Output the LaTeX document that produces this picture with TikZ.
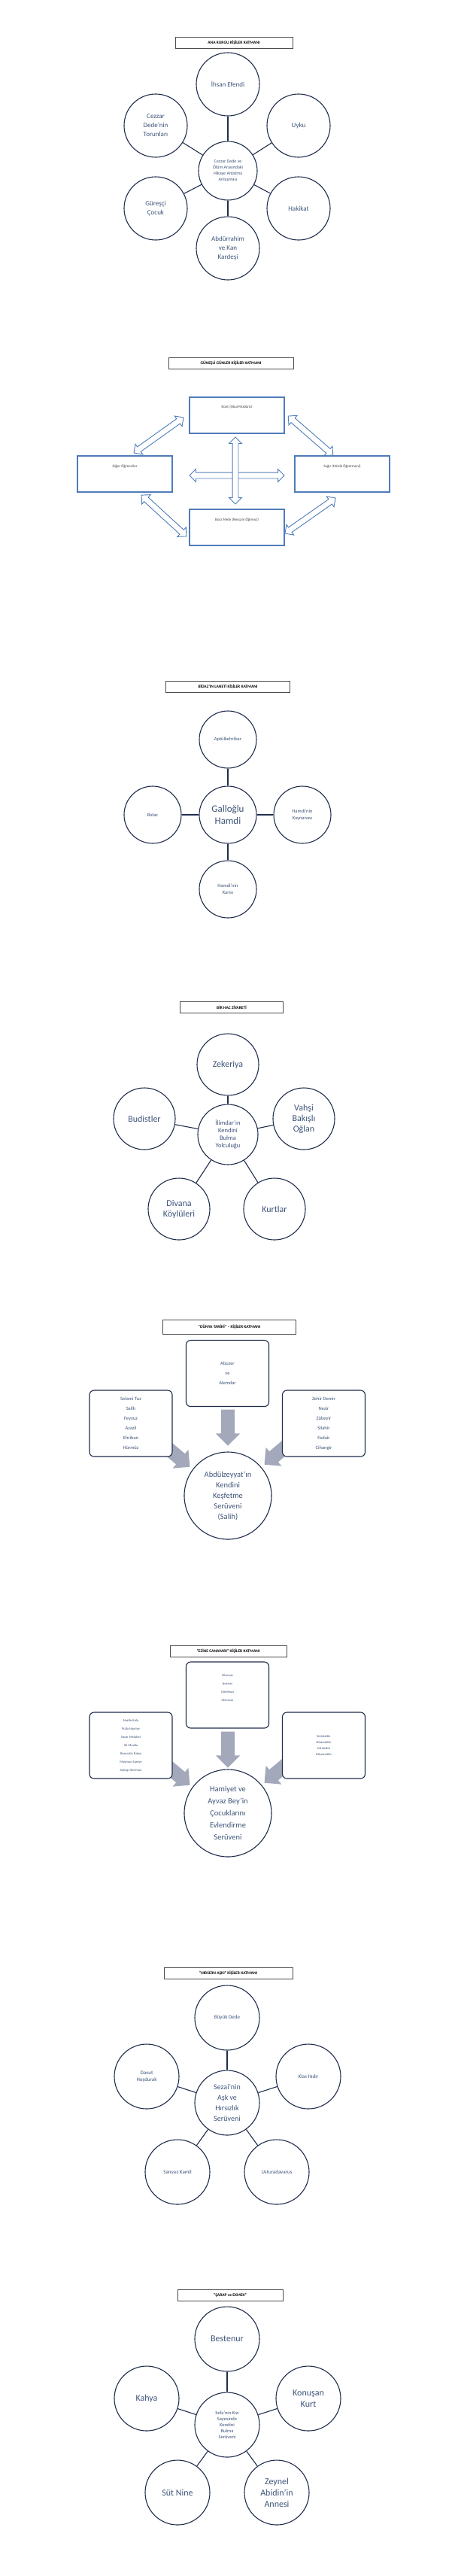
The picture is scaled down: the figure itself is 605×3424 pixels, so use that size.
\documentclass[tikz,border=0pt]{standalone}
\usepackage{fontspec}
\setmainfont{Carlito}
\usetikzlibrary{shapes.arrows}
\definecolor{navy}{HTML}{1F2D4D}
\definecolor{inkblue}{HTML}{3E5479}
\definecolor{boxblue}{HTML}{4F7CBA}
\definecolor{arrowgray}{HTML}{A3A9BA}
\tikzset{
  title/.style = {draw = black!70, line width = 0.5pt, minimum width = #1, minimum height = 15, inner sep = 0, font = \fontsize{5.5}{6}\selectfont\bfseries},
  person/.style = {circle, draw = navy, line width = 1.1pt, minimum size = #1, align = center, text = inkblue, inner sep = 1pt},
  link/.style = {navy, line width = 1.1pt},
  role/.style = {draw = boxblue, line width = 1.2pt, minimum width = 126, minimum height = 48, text = black!75, font = \fontsize{5}{6}\selectfont},
  relation/.style = {double arrow, draw = boxblue, fill = white, line width = 0.9pt, inner sep = 3.5pt, double arrow head extend = 4.5pt},
  group/.style = {draw = navy, line width = 1.1pt, rounded corners = 6, minimum width = 110, minimum height = 88, align = center, text = inkblue},
  flow/.style = {single arrow, fill = arrowgray, inner sep = 9pt, single arrow head extend = 7pt}
}
\begin{document}
\begin{tikzpicture}[x = 1pt, y = -1pt]
  \useasboundingbox[fill = white] (0,0) rectangle (605,3424);

  % ana kurgu
  \node[title = 156] (t1) at (311,57) {ANA KURGU KİŞİLER KATMANI};
  \node[person = 78, font = \fontsize{6}{8}\selectfont] (c1) at (303,227) {Cezzar Dede ve\\Ölüm Arasındaki\\Hikaye Anlatma\\Anlaşması};
  \node[person = 84, font = \fontsize{9}{12}\selectfont] (ihsan) at (303,112) {İhsan Efendi};
  \node[person = 84, font = \fontsize{9}{12}\selectfont] (uyku) at (397,167) {Uyku};
  \node[person = 84, font = \fontsize{9}{12}\selectfont] (hakikat) at (397,277) {Hakikat};
  \node[person = 84, font = \fontsize{9}{12}\selectfont] (abdurrahim) at (303,330) {Abdürrahim\\ve Kan\\Kardeşi};
  \node[person = 84, font = \fontsize{9}{12}\selectfont] (guresci) at (207,277) {Güreşçi\\Çocuk};
  \node[person = 84, font = \fontsize{9}{12}\selectfont] (torunlar) at (207,167) {Cezzar\\Dede'nin\\Torunları};
  \foreach \n in {ihsan, uyku, hakikat, abdurrahim, guresci, torunlar}
    \draw[link] (c1) -- (\n);

  % guneşli günler
  \node[title = 166] (t2) at (307,483) {GÜNEŞLİ GÜNLER KİŞİLER KATMANI};
  \node[role, text depth = 22] (kont) at (315,552) {Kont (Okul Müdürü)};
  \node[role, text depth = 22] (diger) at (166,630) {Diğer Öğrenciler};
  \node[role, text depth = 22] (sagir) at (455,630) {Sağır (Müzik Öğretmeni)};
  \node[role, text depth = 22] (bora) at (315,701) {Bora Mete (Ressam Öğrenci)};
  \node[relation, minimum height = 81, rotate = 35.5] (r1) at (211,578.5) {};
  \node[relation, minimum height = 79, rotate = -41] (r2) at (413,579) {};
  \node[relation, minimum height = 81, rotate = -42.5] (r3) at (218,685.5) {};
  \node[relation, minimum height = 82, rotate = 35] (r4) at (412.5,685.5) {};
  \node[relation, minimum height = 126] (r5) at (315,632) {};
  \node[relation, minimum height = 89, rotate = 90] (r6) at (313,625.5) {};

  % bidaz
  \node[title = 165] (t3) at (303,913) {BİDAZ'IN LANETİ KİŞİLER KATMANI};
  \node[person = 76, font = \fontsize{13}{16}\selectfont] (c3) at (303,1083) {Galloğlu\\Hamdi};
  \node[person = 76, font = \fontsize{6.5}{9}\selectfont] (aptul) at (303,983) {Aptülkehribar};
  \node[person = 76, font = \fontsize{6.5}{9}\selectfont] (bidaz) at (203,1083) {Bidaz};
  \node[person = 76, font = \fontsize{6.5}{9}\selectfont] (kaynana) at (402,1083) {Hamdi'nin\\Kaynanası};
  \node[person = 76, font = \fontsize{6.5}{9}\selectfont] (karisi) at (303,1182) {Hamdi'nin\\Karısı};
  \foreach \n in {aptul, bidaz, kaynana, karisi}
    \draw[link] (c3) -- (\n);

  % hac
  \node[title = 137] (t4) at (308,1339) {BİR HAC ZİYARETİ};
  \node[person = 80, font = \fontsize{8.5}{10}\selectfont] (c4) at (303,1508) {İlimdar'ın\\Kendini\\Bulma\\Yolculuğu};
  \node[person = 82, font = \fontsize{12}{14}\selectfont] (zekeriya) at (303,1415) {Zekeriya};
  \node[person = 82, font = \fontsize{12}{14}\selectfont] (vahsi) at (404,1487) {Vahşi\\Bakışlı\\Oğlan};
  \node[person = 82, font = \fontsize{12}{14}\selectfont] (kurtlar) at (365,1607) {Kurtlar};
  \node[person = 82, font = \fontsize{12}{14}\selectfont] (divana) at (238,1607) {Divana\\Köylüleri};
  \node[person = 82, font = \fontsize{12}{14}\selectfont] (budist) at (192,1487) {Budistler};
  \foreach \n in {zekeriya, vahsi, kurtlar, divana, budist}
    \draw[link] (c4) -- (\n);

  % dünya tarihi
  \node[title = 177, minimum height = 19] (t5) at (305,1764) {"DÜNYA TARİHİ" -- KİŞİLER KATMANI};
  \node[flow, minimum height = 48, rotate = -90] (f1) at (303,1893) {};
  \node[flow, minimum height = 52, rotate = -40] (f2) at (229,1930) {};
  \node[flow, minimum height = 52, rotate = -140] (f3) at (375,1927) {};
  \node[group, fill = white, font = \fontsize{6.5}{13}\selectfont] (abuzer) at (302.5,1825.5) {Abuzer\\ve\\Alemdar};
  \node[group, fill = white, font = \fontsize{6.5}{13}\selectfont] (selami) at (174,1892) {Selami Tuz\\Salih\\Feyyuz\\Azazil\\Ehriban\\Hürmüz};
  \node[group, fill = white, font = \fontsize{6.5}{13}\selectfont] (zehir) at (430.5,1892) {Zehir Demir\\Nezir\\Zübeyir\\Silahir\\Fedair\\Cihangir};
  \node[person = 116, fill = white, font = \fontsize{10.5}{14}\selectfont] (c5) at (303,1988) {Abdülzeyyat'ın\\Kendini\\Keşfetme\\Serüveni\\(Salih)};

  % ezine canavarı
  \node[title = 155] (t6) at (303.5,2195) {"EZİNE CANAVARI" KİŞİLER KATMANI};
  \node[flow, minimum height = 48, rotate = -90] (f4) at (303,2321) {};
  \node[flow, minimum height = 52, rotate = -40] (f5) at (229,2353) {};
  \node[flow, minimum height = 52, rotate = -140] (f6) at (375,2350) {};
  \node[group, fill = white, text depth = 20, font = \fontsize{4.5}{11}\selectfont] (cilve) at (302.5,2253) {Cilvenaz\\İşvenaz\\Gönlenaz\\Alemnaz};
  \node[group, fill = white, font = \fontsize{4.5}{11}\selectfont] (nazife) at (174,2320) {Nazife Kafa\\Pullu Hayriye\\Savar Melahat\\Ali Mualla\\Boncuklu Rabış\\Maymun Saniye\\Aybaşı Neriman};
  \node[group, fill = white, font = \fontsize{4.5}{8}\selectfont] (selahattin) at (430.5,2320) {Selahattin\\Nizamettin\\Celalettin\\Hüsamettin};
  \node[person = 116, fill = white, font = \fontsize{10.5}{16}\selectfont] (c6) at (303,2410) {Hamiyet ve\\Ayvaz Bey'in\\Çocuklarını\\Evlendirme\\Serüveni};

  % hırsızın aşkı
  \node[title = 171] (t7) at (303.5,2622.5) {"HIRSIZIN AŞKI" KİŞİLER KATMANI};
  \node[person = 86, font = \fontsize{10}{14}\selectfont] (c7) at (302,2795) {Sezai'nin\\Aşk ve\\Hırsızlık\\Serüveni};
  \node[person = 86, font = \fontsize{7}{9}\selectfont] (buyuk) at (302,2682) {Büyük Dede};
  \node[person = 86, font = \fontsize{7}{9}\selectfont] (klas) at (410,2760) {Klas Hıdır};
  \node[person = 86, font = \fontsize{7}{9}\selectfont] (ustura) at (368,2887) {Usturadavarus};
  \node[person = 86, font = \fontsize{7}{9}\selectfont] (sanssiz) at (236,2887) {Sanssız Kamil};
  \node[person = 86, font = \fontsize{7}{9}\selectfont] (davut) at (195,2760) {Davut\\Hoşdurak};
  \foreach \n in {buyuk, klas, ustura, sanssiz, davut}
    \draw[link] (c7) -- (\n);

  % şarap ve ekmek
  \node[title = 140] (t8) at (306,3050.5) {"ŞARAP ve EKMEK"};
  \node[person = 86, font = \fontsize{6.5}{8}\selectfont] (c8) at (302,3223) {Sefa'nın Kızı\\Sayesinde\\Kendini\\Bulma\\Serüveni};
  \node[person = 86, font = \fontsize{12}{13}\selectfont] (bestenur) at (302,3109) {Bestenur};
  \node[person = 86, font = \fontsize{12}{15}\selectfont] (kurt) at (410,3188) {Konuşan\\Kurt};
  \node[person = 86, font = \fontsize{12}{15}\selectfont] (zeynel) at (368,3313) {Zeynel\\Abidin'in\\Annesi};
  \node[person = 86, font = \fontsize{12}{15}\selectfont] (sut) at (236,3313) {Süt Nine};
  \node[person = 86, font = \fontsize{12}{15}\selectfont] (kahya) at (195,3188) {Kahya};
  \foreach \n in {bestenur, kurt, zeynel, sut, kahya}
    \draw[link] (c8) -- (\n);
\end{tikzpicture}
\end{document}
